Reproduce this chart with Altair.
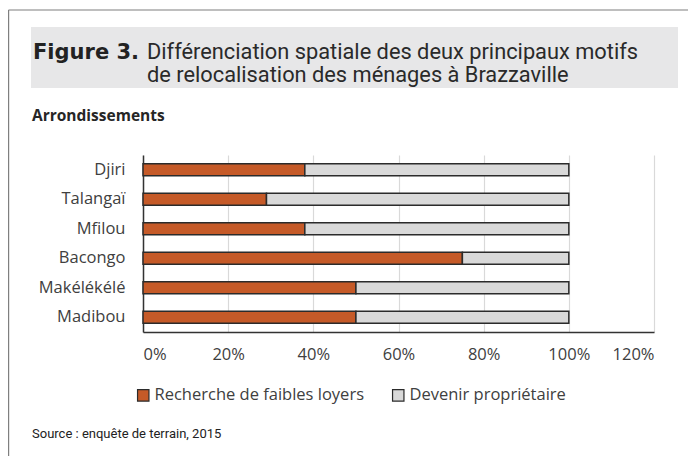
import altair as alt
import pandas as pd

districts = ["Djiri", "Talangaï", "Mfilou", "Bacongo", "Makélékélé", "Madibou"]
faibles_loyers = [38, 29, 38, 75, 50, 50]
proprietaire = [62, 71, 62, 25, 50, 50]
series = ["Recherche de faibles loyers", "Devenir propriétaire"]
colors = ["#C55A28", "#D9D9D9"]
x_ticks = [0, 20, 40, 60, 80, 100, 120]

rows = []
for d, a, b in zip(districts, faibles_loyers, proprietaire):
    rows.append({"arr": d, "motif": series[0], "val": a, "ord": 0})
    rows.append({"arr": d, "motif": series[1], "val": b, "ord": 1})
df = pd.DataFrame(rows)

# plot-area origin on the page: x=143, y=155
PX, PY = 143, 155

bars = alt.Chart(df).mark_bar(stroke="#2b2b2b", strokeWidth=1.5).encode(
    y=alt.Y("arr:N", sort=districts, title=None,
            scale=alt.Scale(paddingInner=0.6, paddingOuter=0.3)),
    x=alt.X("val:Q", stack="zero", title=None,
            scale=alt.Scale(domain=[0, 120], nice=False),
            axis=alt.Axis(values=x_ticks, labelExpr="datum.value + '%'")),
    color=alt.Color("motif:N", sort=series,
                    scale=alt.Scale(domain=series, range=colors),
                    legend=alt.Legend(orient="none", legendX=-8, legendY=232,
                                      direction="horizontal", title=None)),
    order=alt.Order("ord:Q"),
)

def txt(s, x, y, size, weight="normal", font="Roboto", color="#222222"):
    return alt.Chart(pd.DataFrame({"t": [s]})).mark_text(
        align="left", baseline="alphabetic", fontSize=size, fontWeight=weight,
        font=font, color=color
    ).encode(text="t:N", x=alt.value(x - PX), y=alt.value(y - PY))

frame_top = alt.Chart(pd.DataFrame({"a": [0]})).mark_rule(color="#7f7f7f", strokeWidth=1.2).encode(
    x=alt.value(8.5 - PX), x2=alt.value(688 - PX), y=alt.value(10 - PY))
frame_left = alt.Chart(pd.DataFrame({"a": [0]})).mark_rule(color="#7f7f7f", strokeWidth=1.2).encode(
    x=alt.value(8.6 - PX), y=alt.value(10 - PY), y2=alt.value(456 - PY))
band = alt.Chart(pd.DataFrame({"a": [0]})).mark_rect(color="#E7E7E8").encode(
    x=alt.value(31 - PX), x2=alt.value(678 - PX), y=alt.value(27 - PY), y2=alt.value(88 - PY))

layers = [
    frame_top, frame_left, band,
    txt("Figure 3.", 33, 59, 21, "bold", "DejaVu Sans"),
    txt("Différenciation spatiale des deux principaux motifs", 147, 59, 21.8, color="#2a2a2a"),
    txt("de relocalisation des ménages à Brazzaville", 147, 82, 21.8, color="#2a2a2a"),
    txt("Arrondissements", 32, 121, 15.5, "bold", "Open Sans", "#262626"),
    txt("Source : enquête de terrain, 2015", 32, 438, 13),
    bars,
]

chart = alt.layer(*layers).properties(
    width=511, height=177,
    autosize=alt.AutoSizeParams(type="none"),
    padding={"left": PX - 8, "top": PY - 8, "right": 34, "bottom": 124},
).configure_view(stroke=None).configure_axis(
    labelFont="Open Sans", labelFontSize=16.5, labelColor="#404040",
    ticks=False, domainColor="#333333", domainWidth=1.5,
    gridColor="#D9D9D9", gridWidth=1.2,
).configure_axisX(labelPadding=14, domain=True).configure_axisY(
    labelPadding=18, grid=False
).configure_legend(
    labelFont="Open Sans", labelFontSize=16.5, labelColor="#404040", labelLimit=0,
    symbolType="square", symbolSize=130, symbolStrokeColor="#2b2b2b",
    symbolStrokeWidth=1.2, columnPadding=26, labelOffset=3,
)

chart.save("out.html", embed_options={"renderer": "svg", "actions": False})
